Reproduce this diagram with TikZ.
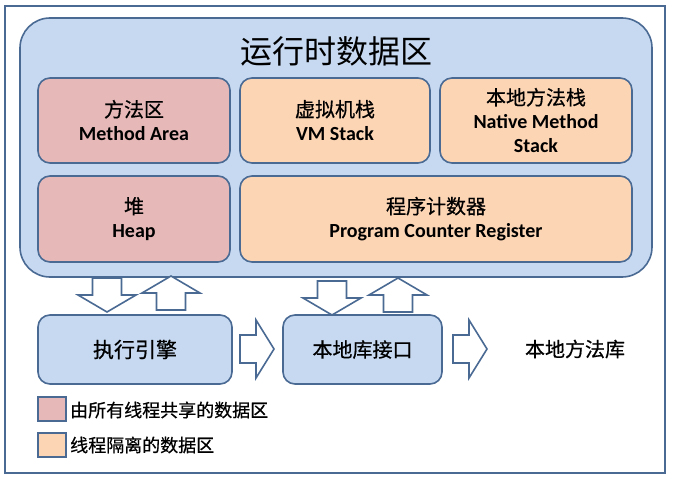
\documentclass[tikz,border=0pt]{standalone}
\usepackage{fontspec}
\setmainfont[FakeBold=0.6]{Noto Sans CJK SC}
\newfontfamily\titlefont{Noto Sans CJK SC}
\newfontfamily\en{Carlito}

\definecolor{lineblue}{HTML}{4A6A94}
\definecolor{areablue}{HTML}{C6D9F1}
\definecolor{sharedred}{HTML}{E6B9B8}
\definecolor{threadpeach}{HTML}{FCD5B5}

\tikzset{
  downarrow/.pic={\draw[blockarrow] (-14.5,0) -- (14.5,0) -- (14.5,17) -- (29,17) -- (0,34) -- (-29,17) -- (-14.5,17) -- cycle;},
  uparrow/.pic={\draw[blockarrow] (0,0) -- (29,17) -- (14.5,17) -- (14.5,34) -- (-14.5,34) -- (-14.5,17) -- (-29,17) -- cycle;},
  rightarrow/.pic={\draw[blockarrow] (0,-14) -- (16,-14) -- (16,-29) -- (34,0) -- (16,29) -- (16,14) -- (0,14) -- cycle;},
}

\begin{document}
\begin{tikzpicture}[x=1pt, y=-1pt]
  \useasboundingbox (0,0) rectangle (674,484);
  \draw[lineblue, line width=2pt, fill=white] (5,6) rectangle (665,473);

  \tikzstyle{box}=[draw=lineblue, line width=1.6pt, rounded corners=12pt, align=center, inner sep=0pt, font=\fontsize{20}{24}\selectfont]
  \tikzstyle{shared}=[box, fill=sharedred]
  \tikzstyle{private}=[box, fill=threadpeach]
  \tikzstyle{unit}=[box, fill=areablue]
  \tikzstyle{blockarrow}=[draw=lineblue, line width=1.6pt, fill=white, line join=miter]
  \tikzstyle{key}=[draw=lineblue, line width=1.6pt, minimum width=28pt, minimum height=24pt, inner sep=0pt]
  \tikzstyle{keytext}=[anchor=west, inner sep=0pt, font=\fontsize{18}{20}\selectfont]

  % runtime data area
  \node[unit, rounded corners=30pt, minimum width=632pt, minimum height=259pt] (runtime) at (336,147.5) {};
  \node[font=\fontsize{32}{36}\titlefont] (title) at (336,51) {运行时数据区};

  \node[shared, minimum width=192pt, minimum height=85pt] (method) at (134,120.5) {方法区\\{\en\bfseries Method Area}};
  \node[private, minimum width=190pt, minimum height=85pt] (vmstack) at (335,120.5) {虚拟机栈\\{\en\bfseries VM Stack}};
  \node[private, minimum width=192pt, minimum height=85pt] (native) at (536,120.5) {本地方法栈\\{\en\bfseries Native Method}\\{\en\bfseries Stack}};
  \node[shared, minimum width=192pt, minimum height=86pt] (heap) at (134,219) {堆\\{\en\bfseries Heap}};
  \node[private, minimum width=392pt, minimum height=86pt] (counter) at (436,219) {程序计数器\\{\en\bfseries Program Counter Register}};

  % engine and native interface
  \node[unit, minimum width=194pt, minimum height=69pt, font=\fontsize{21}{24}\selectfont] (engine) at (135,349.5) {执行引擎};
  \node[unit, minimum width=159pt, minimum height=69pt] (interface) at (362.5,349.5) {本地库接口};
  \node[font=\fontsize{20}{24}\selectfont] (library) at (575,349) {本地方法库};

  \pic at (107,278) {downarrow};
  \pic at (171,276) {uparrow};
  \pic at (332,281) {downarrow};
  \pic at (398,278) {uparrow};
  \pic at (240,349) {rightarrow};
  \pic at (453,349) {rightarrow};

  % legend
  \node[key, fill=sharedred] (sharedkey) at (52,409) {};
  \node[keytext] (sharedtext) at (70,410) {由所有线程共享的数据区};
  \node[key, fill=threadpeach] (threadkey) at (52,445) {};
  \node[keytext] (threadtext) at (70,445) {线程隔离的数据区};
\end{tikzpicture}
\end{document}
